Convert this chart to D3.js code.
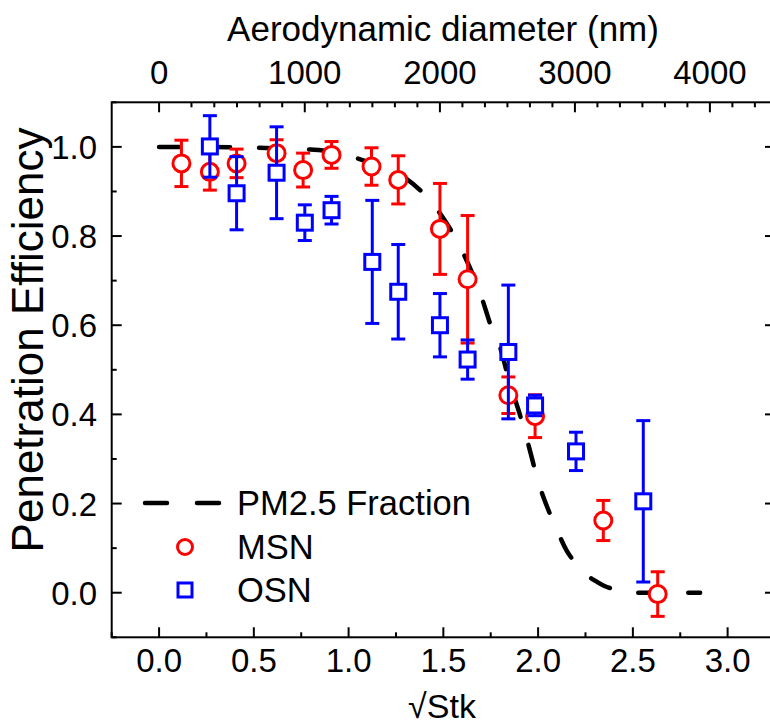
<!DOCTYPE html>
<html><head><meta charset="utf-8">
<script src="https://cdn.jsdelivr.net/npm/d3@7"></script>
<style>
html,body{margin:0;padding:0;background:#fff;}
svg{display:block;font-family:"Liberation Sans",Arial,sans-serif;}
</style></head>
<body><svg id="c" width="770" height="725"></svg>
<script>
// ---- data ----
const msnX   = [0.118, 0.268, 0.409, 0.620, 0.760, 0.910, 1.121, 1.262, 1.482, 1.628, 1.843, 1.984, 2.344, 2.631];
const msnY   = [0.963, 0.944, 0.963, 0.986, 0.948, 0.982, 0.956, 0.926, 0.816, 0.703, 0.443, 0.396, 0.162, -0.003];
const msnErr = [0.052, 0.041, 0.032, 0.030, 0.038, 0.030, 0.042, 0.054, 0.102, 0.143, 0.041, 0.048, 0.045, 0.050];

const osnX   = [0.268, 0.409, 0.620, 0.769, 0.910, 1.125, 1.262, 1.482, 1.628, 1.843, 1.984, 2.200, 2.555];
const osnY   = [1.001, 0.896, 0.942, 0.830, 0.858, 0.742, 0.675, 0.600, 0.523, 0.540, 0.420, 0.317, 0.205];
const osnErr = [0.069, 0.082, 0.103, 0.040, 0.031, 0.138, 0.106, 0.071, 0.044, 0.150, 0.023, 0.043, 0.181];

const pmX = [0, 0.2, 0.4, 0.6, 0.8, 0.9, 1.0, 1.1, 1.2, 1.3, 1.4, 1.5, 1.6, 1.7, 1.75, 1.8, 1.85, 1.9, 1.95, 2.0, 2.05, 2.1, 2.15, 2.2, 2.25, 2.3, 2.35, 2.4, 2.45, 2.5, 2.6, 2.7, 2.855];
const pmY = [1.0, 1.0, 0.999, 0.997, 0.994, 0.99, 0.98, 0.967, 0.952, 0.93, 0.893, 0.84, 0.766, 0.665, 0.60, 0.55, 0.47, 0.405, 0.33, 0.25, 0.19, 0.14, 0.095, 0.065, 0.042, 0.027, 0.015, 0.008, 0.003, 0.0, 0.0, 0.0, 0.0];

const xTicks = [0.0, 0.5, 1.0, 1.5, 2.0, 2.5, 3.0];
const yTicks = [0.0, 0.2, 0.4, 0.6, 0.8, 1.0];
const topTicks = [0, 1000, 2000, 3000, 4000];
const legendLabels = ["PM2.5 Fraction", "MSN", "OSN"];

// ---- layout ----
const L = 111.7, R = 775, T = 102.3, B = 637.3;
const svg = d3.select("#c");
const x = d3.scaleLinear().domain([-0.25, 3.25]).range([L, R]);
const y = d3.scaleLinear().domain([-0.1, 1.1]).range([B, T]);
const RED = "#ff0000", BLUE = "#0000ff";
const FS = 33;

// top axis: aerodynamic diameter (nm) -> sqrt(Stk) with slip correction
const lam = 66, K = 7.12e-4;
function cc(d){ return 1 + (2*lam/d)*(1.257 + 0.4*Math.exp(-1.1*d/(2*lam))); }
function d2s(d){ return d <= 0 ? 0 : K*d*Math.sqrt(cc(d)); }

// frame
svg.append("rect").attr("x", L).attr("y", T).attr("width", R-L).attr("height", B-T)
  .attr("fill", "none").attr("stroke", "#000").attr("stroke-width", 2);

const tk = svg.append("g").attr("stroke", "#000").attr("stroke-width", 2);
d3.range(-0.25, 3.26, 0.25).forEach(v => {
  const major = Math.abs(v*2 - Math.round(v*2)) < 1e-6;
  const len = major ? 10 : 5;
  tk.append("line").attr("x1", x(v)).attr("x2", x(v)).attr("y1", B).attr("y2", B-len);
});
d3.range(0, 4600, 1000/6).forEach(d => {
  const major = Math.abs(d/1000 - Math.round(d/1000)) < 1e-6;
  const px = x(d2s(d));
  if (px > R) return;
  tk.append("line").attr("x1", px).attr("x2", px).attr("y1", T).attr("y2", T + (major ? 10 : 5));
});
d3.range(-0.1, 1.101, 0.1).forEach(v => {
  const major = Math.abs(v*5 - Math.round(v*5)) < 1e-6;
  const len = major ? 10 : 5;
  tk.append("line").attr("x1", L).attr("x2", L+len).attr("y1", y(v)).attr("y2", y(v));
  tk.append("line").attr("x1", R).attr("x2", R-len).attr("y1", y(v)).attr("y2", y(v));
});

// tick labels
svg.append("g").selectAll("text").data(xTicks).join("text")
  .attr("x", d => x(d)).attr("y", 672).attr("text-anchor", "middle")
  .attr("font-size", FS).text(d => d.toFixed(1));
svg.append("g").selectAll("text").data(yTicks).join("text")
  .attr("x", 97).attr("y", d => y(d) + 12).attr("text-anchor", "end")
  .attr("font-size", FS).text(d => d.toFixed(1));
svg.append("g").selectAll("text").data(topTicks).join("text")
  .attr("x", d => x(d2s(d))).attr("y", 84).attr("text-anchor", "middle")
  .attr("font-size", FS).text(d => d);

// axis titles
svg.append("text").attr("x", 443).attr("y", 41).attr("text-anchor", "middle")
  .attr("font-size", 35).text("Aerodynamic diameter (nm)");
svg.append("text").attr("x", 442).attr("y", 718).attr("text-anchor", "middle")
  .attr("font-size", 34).text("√Stk");
svg.append("text").attr("transform", "translate(43,340) rotate(-90)").attr("text-anchor", "middle")
  .attr("font-size", 44).text("Penetration Efficiency");

// PM2.5 dashed curve
const pm = pmX.map((v, i) => [v, pmY[i]]);
svg.append("path").datum(pm)
  .attr("d", d3.line().x(d => x(d[0])).y(d => y(d[1])).curve(d3.curveMonotoneX))
  .attr("fill", "none").attr("stroke", "#000").attr("stroke-width", 4.5)
  .attr("stroke-linecap", "round").attr("stroke-dasharray", "21,29");

function errorBars(xs, ys, es, color){
  const g = svg.append("g").attr("stroke", color).attr("stroke-width", 3).attr("fill", "none");
  xs.forEach((v, i) => {
    const cx = x(v), y1 = y(ys[i] + es[i]), y2 = y(ys[i] - es[i]);
    g.append("line").attr("x1", cx).attr("x2", cx).attr("y1", y1).attr("y2", y2);
    g.append("line").attr("x1", cx-7).attr("x2", cx+7).attr("y1", y1).attr("y2", y1);
    g.append("line").attr("x1", cx-7).attr("x2", cx+7).attr("y1", y2).attr("y2", y2);
  });
}
errorBars(msnX, msnY, msnErr, RED);
svg.append("g").selectAll("circle").data(msnX).join("circle")
  .attr("cx", d => x(d)).attr("cy", (d, i) => y(msnY[i])).attr("r", 8.5)
  .attr("fill", "#fff").attr("stroke", RED).attr("stroke-width", 3);
errorBars(osnX, osnY, osnErr, BLUE);
svg.append("g").selectAll("rect").data(osnX).join("rect")
  .attr("x", d => x(d) - 7.5).attr("y", (d, i) => y(osnY[i]) - 7.5)
  .attr("width", 15).attr("height", 15)
  .attr("fill", "#fff").attr("stroke", BLUE).attr("stroke-width", 3);

// legend
const lg = svg.append("g");
lg.append("line").attr("x1", 145).attr("x2", 221).attr("y1", 503).attr("y2", 503)
  .attr("stroke", "#000").attr("stroke-width", 4.5).attr("stroke-linecap", "round")
  .attr("stroke-dasharray", "22,30");
lg.append("circle").attr("cx", 185).attr("cy", 547).attr("r", 7.5)
  .attr("fill", "#fff").attr("stroke", RED).attr("stroke-width", 3);
lg.append("rect").attr("x", 185-7).attr("y", 590-7).attr("width", 14).attr("height", 14)
  .attr("fill", "#fff").attr("stroke", BLUE).attr("stroke-width", 3);
lg.selectAll("text").data(legendLabels).join("text")
  .attr("x", 237).attr("y", (d, i) => 515 + i*43.5)
  .attr("font-size", 34.5).text(d => d);
</script></body></html>
